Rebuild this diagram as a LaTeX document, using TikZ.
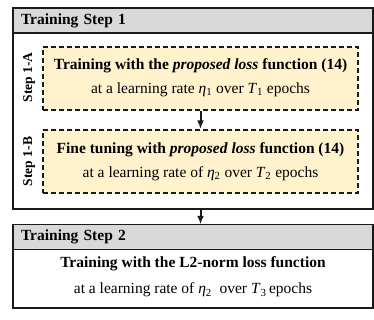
\documentclass[tikz,border=0pt]{standalone}
\usepackage{fontspec}
\setmainfont{Liberation Serif}
\usetikzlibrary{arrows.meta,positioning}
\definecolor{ink}{HTML}{1A1A1A}
\definecolor{headbg}{HTML}{D9D9D9}
\definecolor{stagebg}{HTML}{FFF2CC}
\newcommand{\symb}[2]{\textit{#1}\textsubscript{#2}}

\begin{document}
\begin{tikzpicture}[x=1pt,y=1pt,font=\fontsize{15.5}{18}\selectfont,>={Latex[length=3mm,width=2.4mm]},
  frame/.style={draw=ink,line width=1.4pt,minimum width=360pt},
  head/.style={frame,fill=headbg,minimum height=25pt,text width=344pt,align=left,
               inner xsep=8pt,font=\fontsize{15.5}{18}\selectfont\bfseries},
  stage/.style={draw=ink,fill=stagebg,line width=2pt,dash pattern=on 5pt off 3pt,
                minimum width=315pt,minimum height=63pt,align=center},
  tag/.style={rotate=90,font=\fontsize{13.5}{15}\selectfont\bfseries},
  flow/.style={->,line width=2pt,draw=ink}]
  \useasboundingbox (0,0) rectangle (374,-319);
  % training step 1
  \node[frame,minimum height=201pt] (one) at (193,-108.5) {};
  \node[head] (headone) at (193,-20.5) {Training Step 1};
  \node[stage] (sa) at (200.5,-78)
   {\textbf{Training with the \textit{proposed loss} function (14)}\\[6pt]
    at a learning rate \symb{η}{1} over \symb{T}{1} epochs};
  \node[stage] (sb) at (200.5,-161.5)
   {\textbf{Fine tuning with \textit{proposed loss} function (14)}\\[6pt]
    at a learning rate of \symb{η}{2} over \symb{T}{2} epochs};
  \node[tag] (taga) at (29,-77.5) {Step 1-A};
  \node[tag] (tagb) at (29,-161.5) {Step 1-B};
  % training step 2
  \node[frame,minimum height=83pt] (two) at (193,-266.5) {};
  \node[head] (headtwo) at (193,-237) {Training Step 2};
  \node[align=center] (twotext) at (193,-277)
   {\textbf{Training with the L2-norm loss function}\\[8pt]
    at a learning rate of \symb{η}{2}\ \ over \symb{T}{3}\,epochs};
  \draw[flow] (sa.south) -- (sb.north);
  \draw[flow] (one.south -| sa.south) -- (two.north -| sa.south);
\end{tikzpicture}
\end{document}
